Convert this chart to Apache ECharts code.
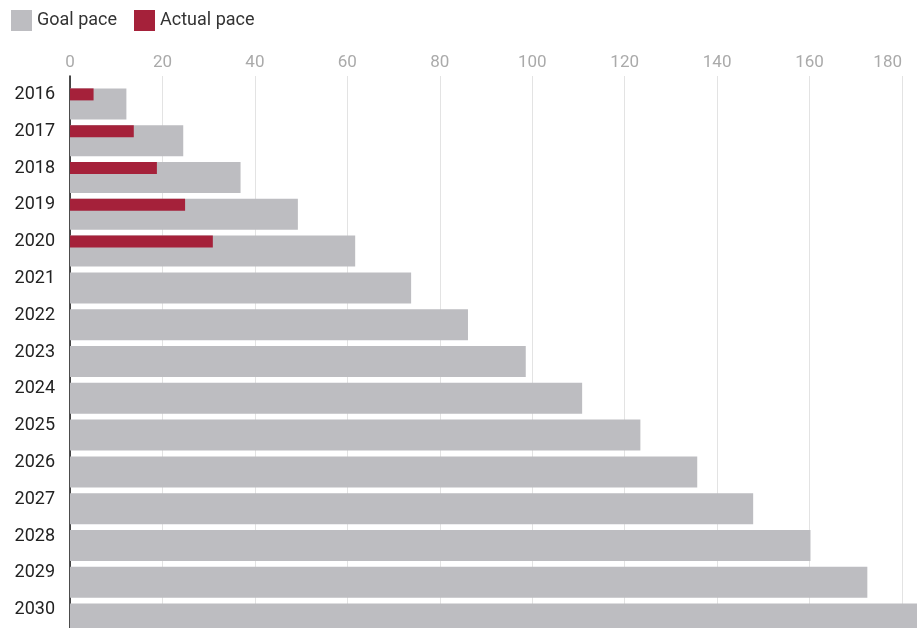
<!DOCTYPE html>
<html><head><meta charset="utf-8">
<script src="https://cdn.jsdelivr.net/npm/echarts@6/dist/echarts.min.js"></script>
<style>html,body{margin:0;padding:0;background:#fff}#c{width:917px;height:628px}</style>
</head><body><div id="c"></div>
<script>
const years = ['2016','2017','2018','2019','2020','2021','2022','2023','2024','2025','2026','2027','2028','2029','2030'];
const goalPace = [12.2, 24.5, 36.9, 49.3, 61.7, 73.8, 86.1, 98.6, 110.8, 123.4, 135.7, 147.8, 160.2, 172.5, 185];
const actualPace = [5.1, 13.8, 18.8, 24.9, 30.9, null, null, null, null, null, null, null, null, null, null];
const xTicks = [0, 20, 40, 60, 80, 100, 120, 140, 160, 180];

const chart = echarts.init(document.getElementById('c'), null, {renderer: 'canvas'});
chart.setOption({
  animation: false,
  textStyle: {fontFamily: 'Roboto'},
  legend: {
    left: 6, top: 5, icon: 'rect', itemWidth: 21, itemHeight: 21, itemGap: 17,
    textStyle: {fontSize: 18, color: '#333', fontFamily: 'Roboto'},
    data: ['Goal pace', 'Actual pace']
  },
  grid: {left: 70, right: 15, top: 76, bottom: -6, containLabel: false},
  xAxis: {
    type: 'value', position: 'top', min: 0, max: 180, interval: 20,
    axisLine: {show: false}, axisTick: {show: false},
    axisLabel: {color: '#aaa', fontSize: 17, margin: 5, alignMaxLabel: 'right',
      formatter: v => xTicks.indexOf(v) >= 0 ? String(v) : ''},
    splitLine: {show: true, lineStyle: {color: '#e3e3e3', width: 1}}
  },
  yAxis: {
    type: 'category', data: years, inverse: true,
    axisLine: {show: true, lineStyle: {color: '#111', width: 1.5}},
    axisTick: {show: false},
    axisLabel: {color: '#222', fontSize: 18, margin: 15}
  },
  series: [
    {name: 'Goal pace', type: 'bar', data: goalPace, barWidth: 31, barGap: '-100%',
      clip: false, itemStyle: {color: '#bdbdc1'}, z: 2},
    {name: 'Actual pace', type: 'bar', data: actualPace, barWidth: 12,
      clip: false, itemStyle: {color: '#a5213a'}, z: 3}
  ]
});
</script></body></html>
